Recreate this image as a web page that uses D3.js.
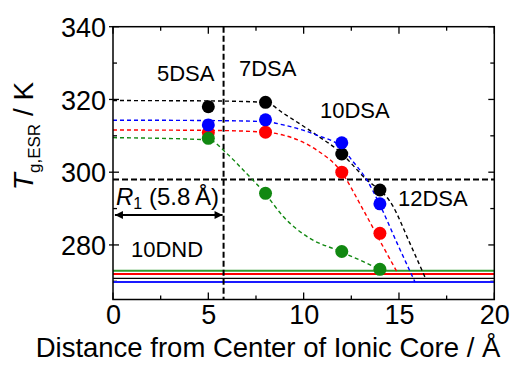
<!DOCTYPE html>
<html>
<head>
<meta charset="utf-8">
<script src="https://cdn.jsdelivr.net/npm/d3@7"></script>
<style>
  body { margin: 0; background: #fff; }
  svg { font-family: "Liberation Sans", Arial, sans-serif; }
</style>
</head>
<body>
<svg></svg>
<script>
// data
const probes = ["5DSA", "7DSA", "10DSA", "12DSA"];
const positions = [5, 8, 12, 14];

const tgBlack = [318, 319.2, 305, 295.1];
const tgBlue  = [313, 314.4, 308.1, 291.3];
const tgRed   = [310.9, 311, 300, 283.2];
const tgGreen = [309.3, 294.2, 278.2, 273.3];

// fitted curves
const fitBlack = [[0, 319.7], [5, 319.6], [8, 319.2], [8.93, 316.2], [10.68, 310.2], [11.9, 305.6], [13.13, 298.8], [14.7, 290.5], [15.57, 280.5], [16.36, 271.2]];
const fitBlue  = [[0, 314.3], [5, 314.2], [8, 313.9], [8.93, 313], [10.68, 310.2], [12, 306.8], [12.5, 303.5], [13.3, 298], [14, 291], [14.9, 280.5], [15.84, 269.8]];
const fitRed   = [[0, 311.6], [5, 311.5], [8, 311], [8.93, 310.2], [10.68, 306.1], [11.9, 300.6], [13.13, 289.6], [14.17, 279.5], [14.96, 272]];
const fitGreen = [[0, 309.5], [5, 308.9], [6, 305], [6.83, 300.6], [7.97, 294.2], [8.93, 287.8], [10.33, 281.8], [11.73, 278.6], [13.13, 275.4], [14, 273.2]];

// 10DND reference levels
const dndLevels = [272.9, 272.0, 270.8, 269.8];
const dndColors = ["#2e9a2e", "#ff0000", "#000000", "#1a1aff"];

const r1 = 5.8;
const tgCross = 298;

const xTicks = [0, 5, 10, 15, 20];
const yTicks = [280, 300, 320, 340];

// -----------------------------
// SETUP
// -----------------------------
let width = 511,
    height = 365;

let svg = d3.select("svg")
            .attr("width", width)
            .attr("height", height);

let xScale = d3.scaleLinear().domain([0, 20]).range([113, 494.3]);
let yScale = d3.scaleLinear().domain([265, 340]).range([299.5, 26.7]);

let x0 = xScale(0), x1 = xScale(20), yb = yScale(265), yt = yScale(340);

// -----------------------------
// TICKS
// -----------------------------
const xMinor = d3.range(0, 20.01, 2.5);
const yMinor = d3.range(270, 340.01, 10);

function major(v, list) { return list.indexOf(v) >= 0; }

let ticks = svg.append("g").attr("stroke", "#000").attr("stroke-width", 1.3);
xMinor.forEach(v => {
  let len = major(v, xTicks) ? 7 : 4;
  ticks.append("line").attr("x1", xScale(v)).attr("x2", xScale(v)).attr("y1", yb).attr("y2", yb - len);
  ticks.append("line").attr("x1", xScale(v)).attr("x2", xScale(v)).attr("y1", yt).attr("y2", yt + len);
});
yMinor.forEach(v => {
  let isMaj = major(v, yTicks);
  let len = isMaj ? 6 : 4;
  ticks.append("line").attr("x1", x0 - (isMaj ? 4 : 0)).attr("x2", x0 + len).attr("y1", yScale(v)).attr("y2", yScale(v));
  ticks.append("line").attr("x1", x1).attr("x2", x1 - len).attr("y1", yScale(v)).attr("y2", yScale(v));
});

// tick labels through axes
let xAxis = svg.append("g")
   .attr("transform", `translate(0, ${yb})`)
   .call(d3.axisBottom(xScale).tickValues(xTicks).tickSize(0).tickPadding(5));
let yAxis = svg.append("g")
   .attr("transform", `translate(${x0}, 0)`)
   .call(d3.axisLeft(yScale).tickValues(yTicks).tickSize(0).tickPadding(7));
[xAxis, yAxis].forEach(a => {
  a.select(".domain").remove();
  a.selectAll("text").attr("font-size", 27).attr("fill", "#000")
   .attr("font-family", "Liberation Sans, Arial, sans-serif");
});
yAxis.selectAll("text").attr("dy", "0.36em");

// -----------------------------
// 10DND LINES
// -----------------------------
dndLevels.forEach((v, i) => {
  svg.append("line")
     .attr("x1", x0).attr("x2", x1)
     .attr("y1", yScale(v)).attr("y2", yScale(v))
     .attr("stroke", dndColors[i])
     .attr("stroke-width", i === 2 ? 1.2 : 2);
});

// -----------------------------
// CROSSHAIR
// -----------------------------
svg.append("line")
   .attr("x1", xScale(r1)).attr("x2", xScale(r1))
   .attr("y1", yt).attr("y2", yb)
   .attr("stroke", "#000").attr("stroke-width", 2)
   .attr("stroke-dasharray", "6,3");
svg.append("line")
   .attr("x1", x0).attr("x2", x1)
   .attr("y1", yScale(tgCross)).attr("y2", yScale(tgCross))
   .attr("stroke", "#000").attr("stroke-width", 2)
   .attr("stroke-dasharray", "6,3");

// -----------------------------
// FIT CURVES
// -----------------------------
let line = d3.line()
             .x(d => xScale(d[0]))
             .y(d => yScale(d[1]))
             .curve(d3.curveMonotoneX);

const series = [
  { fit: fitBlack, vals: tgBlack, color: "#000000" },
  { fit: fitRed,   vals: tgRed,   color: "#ff0000" },
  { fit: fitBlue,  vals: tgBlue,  color: "#0000ff" },
  { fit: fitGreen, vals: tgGreen, color: "#118811" }
];

series.forEach(s => {
  svg.append("path")
     .attr("d", line(s.fit))
     .attr("fill", "none")
     .attr("stroke", s.color)
     .attr("stroke-width", 1.4)
     .attr("stroke-dasharray", "4,3");
});

series.forEach(s => {
  svg.append("g").selectAll("circle")
     .data(s.vals)
     .enter()
     .append("circle")
     .attr("cx", (d, i) => xScale(positions[i]))
     .attr("cy", d => yScale(d))
     .attr("r", 6.5)
     .attr("fill", s.color);
});

// frame
svg.append("rect")
   .attr("x", x0).attr("y", yt)
   .attr("width", x1 - x0).attr("height", yb - yt)
   .attr("fill", "none").attr("stroke", "#000").attr("stroke-width", 1.5);

// -----------------------------
// ARROW R1
// -----------------------------
let defs = svg.append("defs");
defs.append("marker")
    .attr("id", "head")
    .attr("viewBox", "0 0 10 10")
    .attr("refX", 10).attr("refY", 5)
    .attr("markerWidth", 5).attr("markerHeight", 4)
    .attr("orient", "auto-start-reverse")
    .append("path").attr("d", "M0,0 L10,5 L0,10 Z").attr("fill", "#000");

svg.append("line")
   .attr("x1", xScale(0.1)).attr("x2", xScale(r1) - 1)
   .attr("y1", 215).attr("y2", 215)
   .attr("stroke", "#000").attr("stroke-width", 2)
   .attr("marker-start", "url(#head)")
   .attr("marker-end", "url(#head)");

// -----------------------------
// LABELS
// -----------------------------
const probeLabelPos = [[157, 81], [239, 76], [320, 118], [398, 206]];
probes.forEach((p, i) => {
  svg.append("text")
     .attr("x", probeLabelPos[i][0]).attr("y", probeLabelPos[i][1])
     .attr("font-size", 22)
     .text(p);
});

svg.append("text")
   .attr("x", 131).attr("y", 257)
   .attr("font-size", 22)
   .text("10DND");

let rLabel = svg.append("text")
   .attr("x", 116).attr("y", 205)
   .attr("font-size", 24);
rLabel.append("tspan").attr("font-style", "italic").text("R");
rLabel.append("tspan").attr("font-size", 16).attr("dy", 4).text("1");
rLabel.append("tspan").attr("dy", -4).text(" (5.8\u2009Å)");

// axis titles
svg.append("text")
   .attr("x", 268).attr("y", 357)
   .attr("font-size", 27.5)
   .style("text-anchor", "middle")
   .text("Distance from Center of Ionic Core / Å");

let yTitle = svg.append("text")
   .attr("transform", "translate(33, 136) rotate(-90)")
   .attr("font-size", 28)
   .style("text-anchor", "middle");
yTitle.append("tspan").attr("font-style", "italic").text("T");
yTitle.append("tspan").attr("font-size", 17).attr("dy", 7).text("g,ESR");
yTitle.append("tspan").attr("dy", -7).text(" / K");
</script>
</body>
</html>
